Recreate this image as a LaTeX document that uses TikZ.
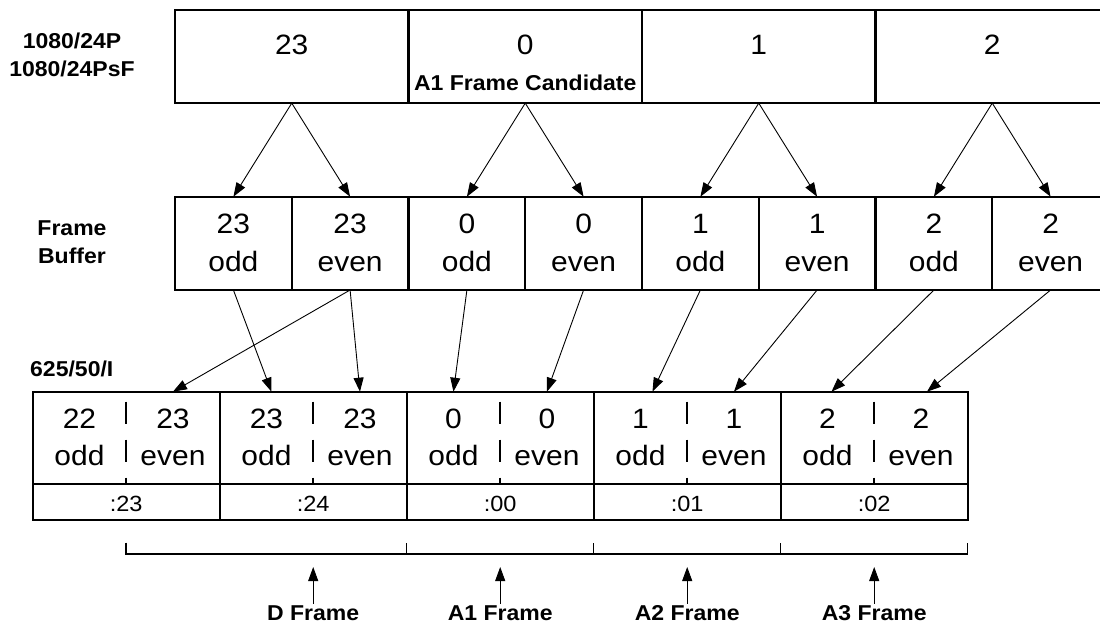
\documentclass[tikz,border=0pt]{standalone}
\usepackage{fontspec}
\setmainfont{Liberation Sans}[FakeStretch=1.07]
\usetikzlibrary{arrows.meta,calc}
\newcommand\szA{\fontsize{28}{34}\selectfont}
\newcommand\szB{\fontsize{21.5}{26}\selectfont\bfseries}
\newcommand\szC{\fontsize{22}{26}\selectfont}
\begin{document}
\begin{tikzpicture}[x=1pt,y=-1pt,
  cellbox/.style={draw,line width=2.2pt,inner sep=0pt,outer sep=0pt},
  toprow/.style={cellbox,minimum width=233.5pt,minimum height=93.3pt},
  fbrow/.style={cellbox,minimum width=116.75pt,minimum height=93.3pt},
  upcell/.style={cellbox,minimum width=187pt,minimum height=92.3pt},
  lowcell/.style={cellbox,minimum width=187pt,minimum height=36pt},
  halfcell/.style={inner sep=0pt,outer sep=0pt,minimum width=93.5pt,minimum height=92.3pt},
  txt/.style={inner sep=0pt,anchor=base,font=\szA},
  small/.style={inner sep=0pt,anchor=base,font=\szC},
  lab/.style={inner sep=0pt,anchor=base,font=\szB},
  arr/.style={line width=0.9pt,-{Triangle[length=14pt,width=10pt]}},
  divider/.style={line width=2.2pt,dash pattern=on 22pt off 16pt},
  bracket/.style={line width=1.5pt},
]
\useasboundingbox (0,0) rectangle (1100,624);
\clip (0,0) rectangle (1100,624);
\fill[white] (0,0) rectangle (1100,624);

% left labels
\node[lab] (l1) at (72,48) {1080/24P};
\node[lab] (l2) at (72,76) {1080/24PsF};
\node[lab] (l3) at (72,235) {Frame};
\node[lab] (l4) at (72,263) {Buffer};
\node[lab,anchor=base west] (l5) at (30,376.7) {625/50/I};

% top row
\foreach \n/\x/\t in {a/291.75/23, b/525.25/0, c/758.75/1, d/992.25/2} {
  \node[toprow] (t\n) at (\x,56.5) {};
  \node[txt] (tt\n) at (\x,54) {\t};
}
\node[lab] (cand) at (525.25,90) {A1 Frame Candidate};

% frame buffer
\foreach \i/\x/\num/\p in {1/233.4/23/odd, 2/350.1/23/even, 3/466.9/0/odd, 4/583.6/0/even,
                             5/700.4/1/odd, 6/817.1/1/even, 7/933.9/2/odd, 8/1050.6/2/even} {
  \node[fbrow] (f\i) at (\x,243.35) {};
  \node[txt] (fn\i) at (\x,233.5) {\num};
  \node[txt] (fp\i) at (\x,271.7) {\p};
}

% 625/50/I row
\foreach \i/\l/\no/\ne/\tc in {1/32.7/22/23/:23, 2/219.7/23/23/:24, 3/406.7/0/0/:00,
                                4/593.7/1/1/:01, 5/780.7/2/2/:02} {
  \pgfmathsetmacro\c{\l+93.5}
  \pgfmathsetmacro\xo{\l+46.75}
  \pgfmathsetmacro\xe{\l+140.25}
  \node[upcell] (u\i) at (\c,437.85) {};
  \node[lowcell] (w\i) at (\c,502) {};
  \node[halfcell] (ho\i) at (\xo,437.85) {};
  \node[halfcell] (he\i) at (\xe,437.85) {};
  \node[txt] (rno\i) at (\xo,428.3) {\no};
  \node[txt] (rpo\i) at (\xo,465) {odd};
  \node[txt] (rne\i) at (\xe,428.3) {\ne};
  \node[txt] (rpe\i) at (\xe,465) {even};
  \node[small] (rt\i) at (\c,511.7) {\tc};
  \draw[divider] ($(u\i.north)+(0,10)$) -- (u\i.south);
}

% top -> frame buffer
\draw[arr] (ta.south) -- (f1.north);
\draw[arr] (ta.south) -- (f2.north);
\draw[arr] (tb.south) -- (f3.north);
\draw[arr] (tb.south) -- (f4.north);
\draw[arr] (tc.south) -- (f5.north);
\draw[arr] (tc.south) -- (f6.north);
\draw[arr] (td.south) -- (f7.north);
\draw[arr] (td.south) -- (f8.north);

% frame buffer -> 625/50/I
\draw[arr] (f1.south) -- ([xshift=5pt]ho2.north);
\draw[arr] (f2.south) -- (he1.north);
\draw[arr] (f2.south) -- (he2.north);
\draw[arr] (f3.south) -- (ho3.north);
\draw[arr] (f4.south) -- (he3.north);
\draw[arr] (f5.south) -- ([xshift=12pt]ho4.north);
\draw[arr] (f6.south) -- (he4.north);
\draw[arr] (f7.south) -- ([xshift=4pt]ho5.north);
\draw[arr] (f8.south) -- ([xshift=6pt]he5.north);

% bracket
\coordinate (k0) at (126.2,554);
\coordinate (k1) at (406.7,554);
\coordinate (k2) at (593.7,554);
\coordinate (k3) at (780.7,554);
\coordinate (k4) at (967.7,554);
\draw[bracket] (k0) ++(0,-11.3) -- (k0) -- (k4) -- ++(0,-11.3);
\foreach \k in {k1,k2,k3} \draw[bracket] (\k) -- ++(0,-11.3);

% bottom labels
\foreach \n/\x/\t in {D/313.2/D Frame, A1/500.2/A1 Frame, A2/687.2/A2 Frame, A3/874.2/A3 Frame} {
  \node[lab] (b\n) at (\x,620) {\t};
  \coordinate (c\n) at (\x,567);
  \draw[arr] ([yshift=1pt]b\n.north) -- (c\n);
}
\end{tikzpicture}
\end{document}
